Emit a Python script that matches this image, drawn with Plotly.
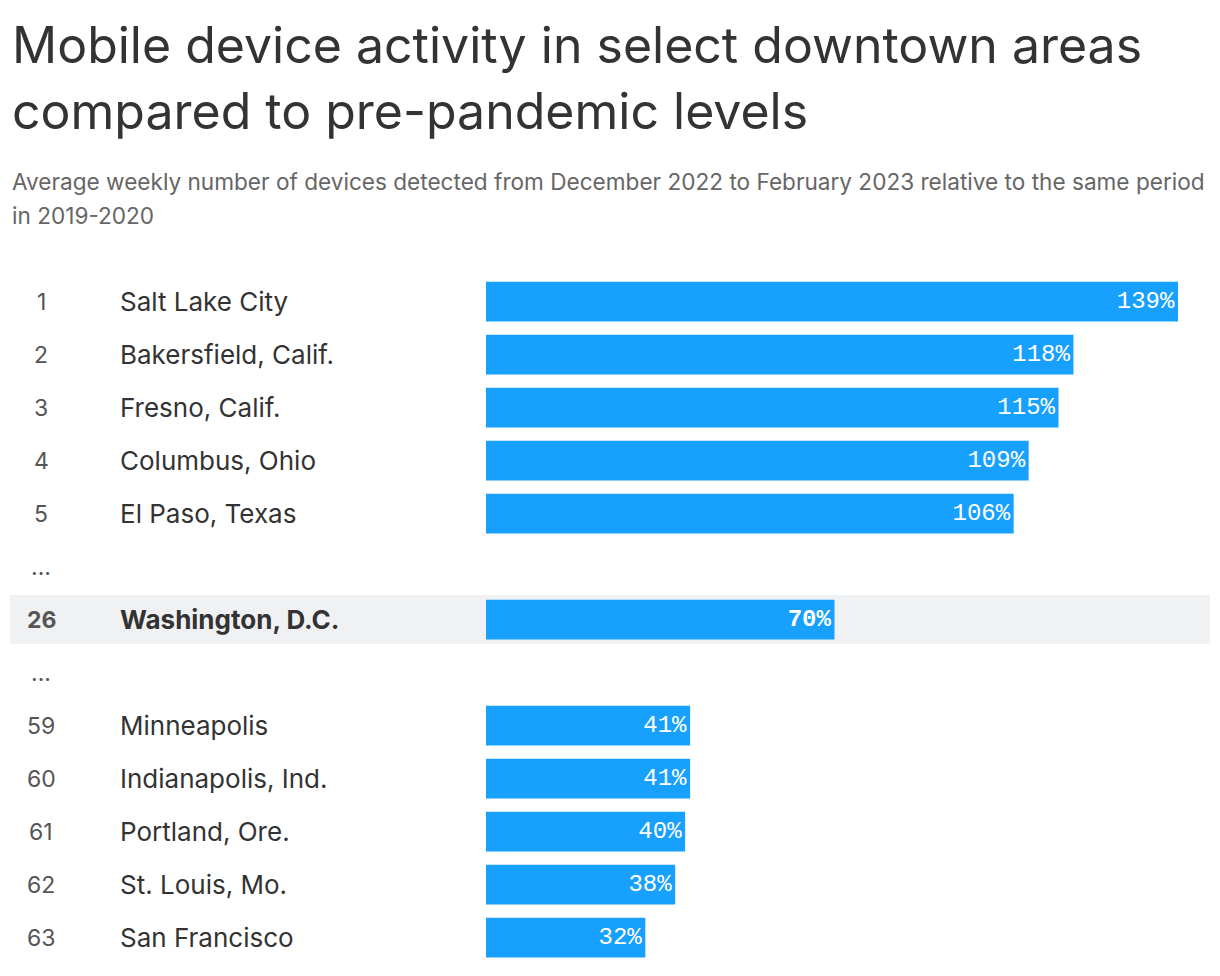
import plotly.graph_objects as go

# rows in display order; "..." rows are gaps
ranks = ["1", "2", "3", "4", "5", "...", "26", "...", "59", "60", "61", "62", "63"]
cities = ["Salt Lake City", "Bakersfield, Calif.", "Fresno, Calif.", "Columbus, Ohio",
          "El Paso, Texas", "", "Washington, D.C.", "", "Minneapolis",
          "Indianapolis, Ind.", "Portland, Ore.", "St. Louis, Mo.", "San Francisco"]
values = [139, 118, 115, 109, 106, None, 70, None, 41, 41, 40, 38, 32]
highlight = "Washington, D.C."

title_lines = ["Mobile device activity in select downtown areas",
               "compared to pre-pandemic levels"]
subtitle_lines = ["Average weekly number of devices detected from December 2022 to February 2023 "
                  "relative to the same period",
                  "in 2019-2020"]

W, H = 1220, 976
BLUE = "#17a0fe"
T, B = 266.5, 19.5          # plot top / bottom margins in px
PH = H - T - B


def py(y_px):
    # pixel from top of figure -> paper y
    return 1 + (T - y_px) / PH


rows = list(range(len(ranks)))
labels = []
for c, v in zip(cities, values):
    if v is None:
        labels.append("")
    elif c == highlight:
        labels.append(f"<b>{v}%</b>")
    else:
        labels.append(f"{v}%")

fig = go.Figure()
fig.add_trace(go.Bar(
    x=values, y=rows, orientation="h",
    marker=dict(color=BLUE, line=dict(width=0)),
    width=0.75,
    text=labels, textposition="inside", insidetextanchor="end",
    textfont=dict(family="Liberation Mono", size=24, color="white"),
    hoverinfo="skip",
))

# grey band behind the highlighted row
hi = cities.index(highlight)
fig.add_shape(type="rect", xref="paper", yref="y", x0=0, x1=1,
              y0=hi - 0.46, y1=hi + 0.46, fillcolor="#f0f1f3",
              line=dict(width=0), layer="below")

for i, (r, c) in enumerate(zip(ranks, cities)):
    bold = c == highlight
    fig.add_annotation(xref="paper", yref="y", x=0.026, y=i, text=f"<b>{r}</b>" if bold else r,
                       showarrow=False, xanchor="center",
                       font=dict(family="Inter", size=23, color="#555"))
    if c:
        fig.add_annotation(xref="paper", yref="y", x=0.090, y=i,
                           text=f"<b>{c}</b>" if bold else c,
                           showarrow=False, xanchor="left",
                           font=dict(family="Inter", size=26, color="#333"))

for line, ypx in zip(title_lines, [36, 102]):
    fig.add_annotation(xref="paper", yref="paper", x=0.0, y=py(ypx),
                       xanchor="left", yanchor="middle", showarrow=False,
                       text=line, font=dict(family="Inter", size=50, color="#333"))
for line, ypx in zip(subtitle_lines, [173, 207]):
    fig.add_annotation(xref="paper", yref="paper", x=0.0, y=py(ypx),
                       xanchor="left", yanchor="middle", showarrow=False,
                       text=line, font=dict(family="Inter", size=22.6, color="#666"))

fig.update_layout(
    width=W, height=H,
    margin=dict(l=2, r=18, t=T, b=B),
    paper_bgcolor="white", plot_bgcolor="white",
    showlegend=False,
    xaxis=dict(range=[0, 139], domain=[(478 - 2) / 1200, (1170 - 2) / 1200],
               visible=False, fixedrange=True),
    yaxis=dict(range=[12.5, -0.5], visible=False, fixedrange=True),
)

fig.write_html("out.html")
